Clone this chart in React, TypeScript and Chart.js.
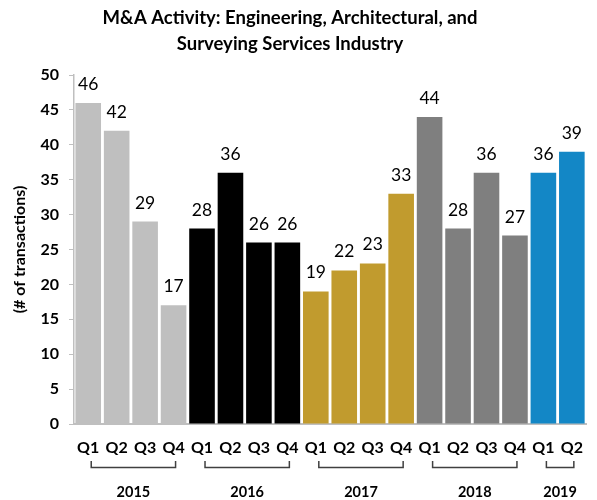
import React, { useEffect, useRef } from "react";
import { Chart, registerables } from "chart.js";

Chart.register(...registerables);

const TITLE_LINES = ["M&A Activity: Engineering, Architectural, and", "Surveying Services Industry"];
const QUARTERS = ["Q1", "Q2", "Q3", "Q4", "Q1", "Q2", "Q3", "Q4", "Q1", "Q2", "Q3", "Q4", "Q1", "Q2", "Q3", "Q4", "Q1", "Q2"];
const VALUES = [46, 42, 29, 17, 28, 36, 26, 26, 19, 22, 23, 33, 44, 28, 36, 27, 36, 39];
const YEARS = ["2015", "2016", "2017", "2018", "2019"];
const YEAR_SIZES = [4, 4, 4, 4, 2];
const YEAR_COLORS = ["#BFBFBF", "#000000", "#C19B2E", "#7F7F7F", "#1387C6"];
const Y_TICKS = [0, 5, 10, 15, 20, 25, 30, 35, 40, 45, 50];
const Y_TITLE = "(# of transactions)";

const FONT = "Lato, 'Open Sans', sans-serif";

const barColors: string[] = [];
YEAR_SIZES.forEach((n, i) => {
  for (let k = 0; k < n; k++) barColors.push(YEAR_COLORS[i]);
});

const overlay = {
  id: "overlay",
  afterDraw(chart: any) {
    const ctx = chart.ctx;
    const x = chart.scales.x;
    const ca = chart.chartArea;
    ctx.save();
    // title
    ctx.fillStyle = "#000";
    ctx.font = `bold 18.5px ${FONT}`;
    ctx.textAlign = "center";
    ctx.textBaseline = "middle";
    ctx.fillText(TITLE_LINES[0], 290, 18);
    ctx.fillText(TITLE_LINES[1], 290, 44);

    // value labels
    const meta = chart.getDatasetMeta(0);
    ctx.font = `17.5px ${FONT}`;
    ctx.textBaseline = "alphabetic";
    meta.data.forEach((bar: any, i: number) => {
      ctx.fillText(String(VALUES[i]), bar.x, bar.y - 13);
    });

    // brackets & years
    let start = 0;
    ctx.strokeStyle = "#404040";
    ctx.lineWidth = 1.5;
    YEARS.forEach((yr, gi) => {
      const end = start + YEAR_SIZES[gi] - 1;
      const x1 = x.getPixelForValue(start) + 3;
      const x2 = x.getPixelForValue(end) + 2;
      ctx.beginPath();
      ctx.moveTo(x1, 461);
      ctx.lineTo(x1, 467.5);
      ctx.lineTo(x2, 467.5);
      ctx.lineTo(x2, 461);
      ctx.stroke();
      ctx.font = `bold 14.5px ${FONT}`;
      ctx.textBaseline = "middle";
      ctx.fillText(yr, (x1 + x2) / 2, 492);
      start = end + 1;
    });

    // y title
    ctx.save();
    ctx.translate(20, (ca.top + ca.bottom) / 2);
    ctx.rotate(-Math.PI / 2);
    ctx.font = `bold 16px ${FONT}`;
    ctx.textBaseline = "middle";
    ctx.fillText(Y_TITLE, 0, 0);
    ctx.restore();
    ctx.restore();
  },
};

export default function App() {
  const ref = useRef<HTMLCanvasElement>(null);
  useEffect(() => {
    const chart = new Chart(ref.current!, {
      type: "bar",
      data: {
        labels: QUARTERS,
        datasets: [
          {
            data: VALUES,
            backgroundColor: barColors,
            barPercentage: 0.9,
            categoryPercentage: 1,
          },
        ],
      },
      options: {
        animation: false,
        responsive: false,
        maintainAspectRatio: false,
        layout: { padding: { left: 0, right: 2, top: 75, bottom: 0 } },
        plugins: { legend: { display: false }, title: { display: false }, tooltip: { enabled: false } },
        scales: {
          x: {
            grid: { display: true, drawOnChartArea: false, drawTicks: false },
            border: { color: "#BFBFBF", width: 2 },
            ticks: { color: "#000", font: { family: FONT, size: 16, weight: "bold" }, padding: 14, maxRotation: 0, autoSkip: false },
            afterFit: (s: any) => {
              s.height = 76;
            },
          },
          y: {
            min: 0,
            max: 50,
            grid: { display: true, drawOnChartArea: false, drawTicks: true, tickLength: 5, color: "#BFBFBF" },
            border: { color: "#BFBFBF", width: 1.5 },
            afterBuildTicks: (s: any) => {
              s.ticks = Y_TICKS.map((v) => ({ value: v }));
            },
            ticks: { color: "#000", font: { family: FONT, size: 16, weight: "bold" }, padding: 10 },
            afterFit: (s: any) => {
              s.width = 74;
            },
          },
        },
      },
      plugins: [overlay],
    });
    return () => chart.destroy();
  }, []);
  return (
    <div style={{ position: "absolute", left: 0, top: 0, width: 597, height: 500, background: "#fff" }}>
      <canvas ref={ref} width={597} height={500} style={{ width: 597, height: 500 }} />
    </div>
  );
}
